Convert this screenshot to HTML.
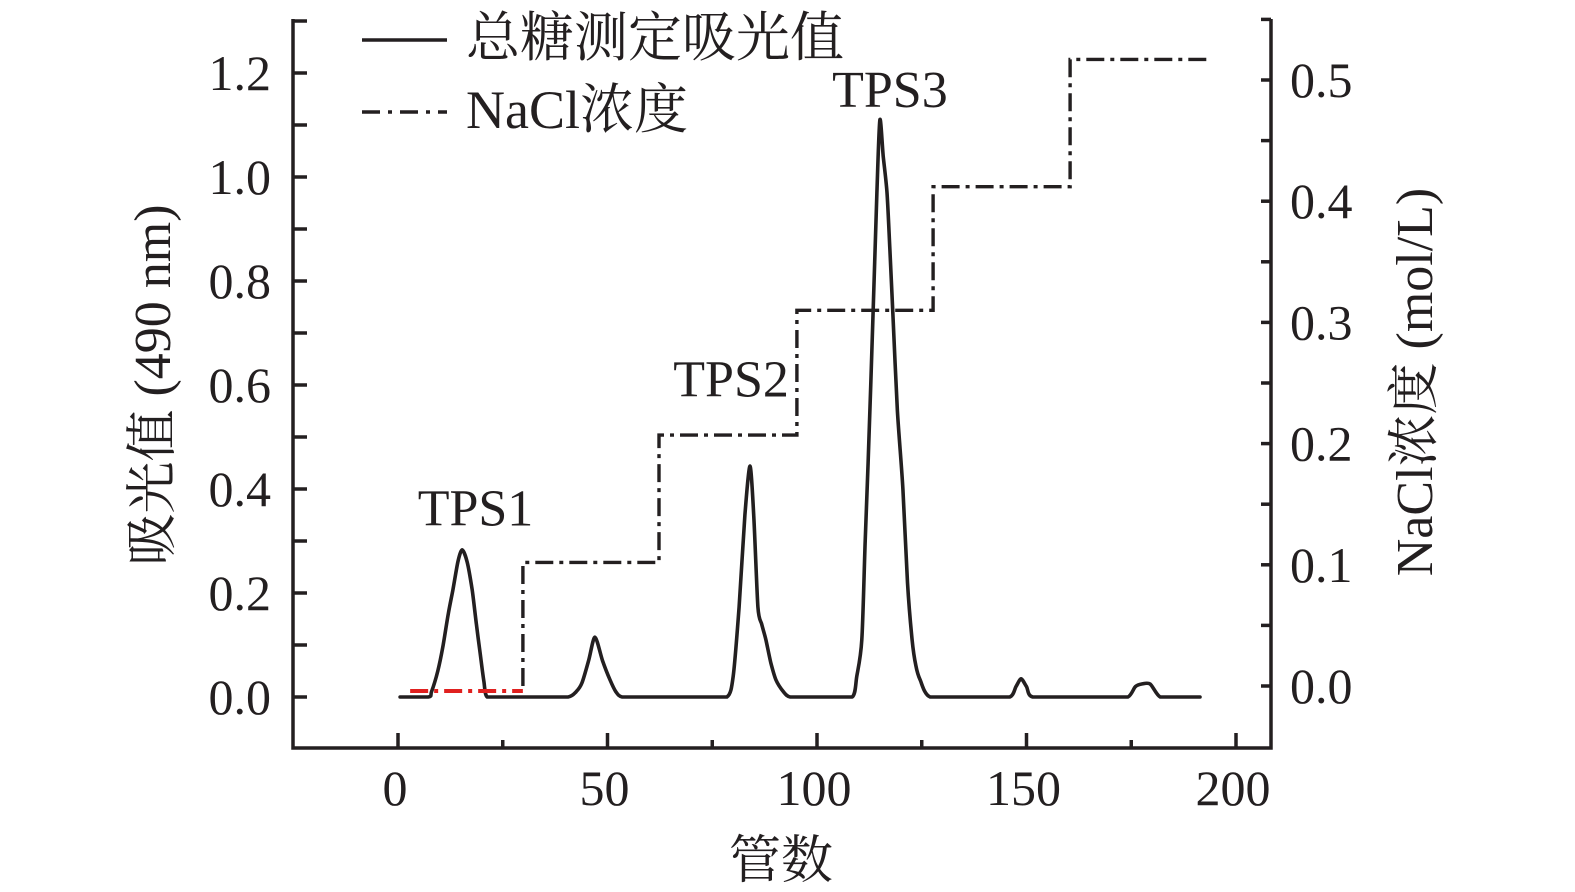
<!DOCTYPE html>
<html><head><meta charset="utf-8"><style>
html,body{margin:0;padding:0;background:#fff;}
svg{display:block;}
text{font-family:"Liberation Serif","Noto Serif CJK SC",serif;fill:#231f20;}
</style></head><body>
<svg id="chart" width="1575" height="892" viewBox="0 0 1575 892" xmlns="http://www.w3.org/2000/svg">
<g id="axes"></g>
<g id="series"></g>
<g id="labels"></g>
</svg>
<script>
const tubes = [0.5,7.2,8,9.5,10.7,12,13.1,14.3,15.3,16.5,17.7,18.7,19.6,20.5,21.3,25,30,35,40.6,42.5,43.9,45.5,47,48.8,50.6,52,53.5,58,63,68,73,78.5,80,81.4,82.8,84,84.9,85.9,86.8,87.8,89,90.2,92,93.6,98,103,108.4,109.5,110.7,111.5,112.2,113.4,114.3,115,115.8,116.7,117.4,118.1,119.2,120.5,121.6,122.7,123.6,124.6,127,135,140,146,147.5,148.7,150,151.5,160,170,174.2,176,177.5,179.5,181.9,186,191.4];
const absorb = [0,0,0.01,0.05,0.096,0.16,0.206,0.26,0.283,0.26,0.206,0.14,0.085,0.03,0,0,0,0,0,0.01,0.027,0.07,0.115,0.07,0.033,0.01,0,0,0,0,0,0,0.04,0.173,0.35,0.444,0.35,0.173,0.14,0.11,0.065,0.033,0.01,0,0,0,0,0.04,0.11,0.3,0.45,0.74,0.97,1.11,1.04,0.97,0.86,0.74,0.55,0.4,0.22,0.11,0.06,0.033,0,0,0,0,0.02,0.035,0.02,0,0,0,0,0.02,0.025,0.025,0,0,0];
const stepStart = [2.9,29.8,62.3,95.2,127.7,160.4];
const stepEnd = [29.8,62.3,95.2,127.7,160.4,193];
const nacl = [0.0,0.102,0.207,0.31,0.412,0.517];
const xTicks = [0,50,100,150,200];
const yTicks = [0,0.2,0.4,0.6,0.8,1.0,1.2];
const y2Ticks = [0,0.1,0.2,0.3,0.4,0.5];
const peakNames = ['TPS1','TPS2','TPS3'];
const peakTubes = [18.5,79.5,117.4];
const peakVals = [0.33,0.578,1.135];

const NS='http://www.w3.org/2000/svg';
const RX=1271;
const X=t=>398+(t-0)*(1236-398)/200;
const Y=v=>697-v*520;
const Y2=v=>686-v*1212;
function mk(tag,attrs,parent,txt){const e=document.createElementNS(NS,tag);for(const k in attrs)e.setAttribute(k,attrs[k]);if(txt!==undefined)e.textContent=txt;parent.appendChild(e);return e;}
const axes=document.getElementById('axes'),series=document.getElementById('series'),labels=document.getElementById('labels');
const st={stroke:'#231f20','stroke-width':3.5,fill:'none'};

let a=mk('path',Object.assign({d:'M293,19 V748 H'+RX+' V19'},st),axes);


for(let i=0;i<=13;i++){const y=697-i*52;const t=mk('line',Object.assign({x1:293,x2:307,y1:y,y2:y},st),axes);

}
yTicks.forEach(v=>{const t=mk('text',{x:271,y:Y(v)+17,'text-anchor':'end','font-size':50},labels,v.toFixed(1));

});
for(let i=0;i<=11;i++){const y=Y2(i*0.05);const t=mk('line',Object.assign({x1:RX-10,x2:RX,y1:y,y2:y},st),axes);

}
y2Ticks.forEach(v=>{const t=mk('text',{x:1290,y:Y2(v)+17,'font-size':50},labels,v.toFixed(1));

});
for(let v=0;v<=200;v+=25){const major=v%50===0;const t=mk('line',Object.assign({x1:X(v),x2:X(v),y1:748,y2:major?733:740},st),axes);

}
xTicks.forEach(v=>{const t=mk('text',{x:X(v)-3,y:805,'text-anchor':'middle','font-size':50},labels,String(v));

});

const P=tubes.map((t,i)=>[X(t),Y(absorb[i])]);
let d='M'+P[0][0].toFixed(1)+','+P[0][1].toFixed(1);
for(let i=0;i<P.length-1;i++){
  const p0=P[Math.max(0,i-1)],p1=P[i],p2=P[i+1],p3=P[Math.min(P.length-1,i+2)];
  const k=1/6*0.8;
  let c1y=p1[1]+(p2[1]-p0[1])*k, c2y=p2[1]-(p3[1]-p1[1])*k;
  c1y=Math.max(Math.min(c1y,Y(0)),Y(1.2));c2y=Math.max(Math.min(c2y,Y(0)),Y(1.2));
  if(p1[1]===p2[1]&&p1[1]===Y(0)){c1y=p1[1];c2y=p2[1];}
  d+='C'+(p1[0]+(p2[0]-p0[0])*k).toFixed(1)+','+c1y.toFixed(1)+' '+(p2[0]-(p3[0]-p1[0])*k).toFixed(1)+','+c2y.toFixed(1)+' '+p2[0].toFixed(1)+','+p2[1].toFixed(1);
}
let c=mk('path',{d:d,stroke:'#231f20','stroke-width':3.6,fill:'none','stroke-linejoin':'round','stroke-linecap':'round'},series);



let sd='';
for(let i=1;i<nacl.length;i++){
  sd+=(i===1?'M'+X(stepStart[i]).toFixed(1)+','+Y2(nacl[0]).toFixed(1):'')+'L'+X(stepStart[i]).toFixed(1)+','+Y2(nacl[i]).toFixed(1)+'L'+X(stepEnd[i]).toFixed(1)+','+Y2(nacl[i]).toFixed(1)+(i<nacl.length-1?'L'+X(stepEnd[i]).toFixed(1)+','+Y2(nacl[i+1]).toFixed(1):'');
}
let s=mk('path',{d:sd,stroke:'#231f20','stroke-width':3.4,fill:'none','stroke-dasharray':'18,6,4,6'},series);


let r=mk('line',{x1:X(stepStart[0]),x2:X(stepEnd[0]),y1:Y2(nacl[0])+5,y2:Y2(nacl[0])+5,stroke:'#e0201f','stroke-width':4,'stroke-dasharray':'18,6,4,6'},series);



peakNames.forEach((n,i)=>{const t=mk('text',{x:X(peakTubes[i]),y:Y(peakVals[i]),'text-anchor':'middle','font-size':52},labels,n);

});

let l1=mk('line',{x1:362,x2:447,y1:40,y2:40,stroke:'#231f20','stroke-width':3.5},labels);


let t1=mk('text',{x:466,y:56,'font-size':54},labels,'总糖测定吸光值');


let l2=mk('line',{x1:362,x2:447,y1:112,y2:112,stroke:'#231f20','stroke-width':3.5,'stroke-dasharray':'18,8,4,8'},labels);


let t2=mk('text',{x:466,y:128,'font-size':54},labels,'NaCl浓度');



let yt=mk('text',{x:0,y:0,'text-anchor':'middle','font-size':52,transform:'translate(170,385) rotate(-90)'},labels,'吸光值 (490 nm)');


let y2t=mk('text',{x:0,y:0,'text-anchor':'middle','font-size':52,transform:'translate(1432,382) rotate(-90)'},labels,'NaCl浓度 (mol/L)');


let xt=mk('text',{x:781,y:878,'text-anchor':'middle','font-size':52},labels,'管数');


</script>
</body></html>
